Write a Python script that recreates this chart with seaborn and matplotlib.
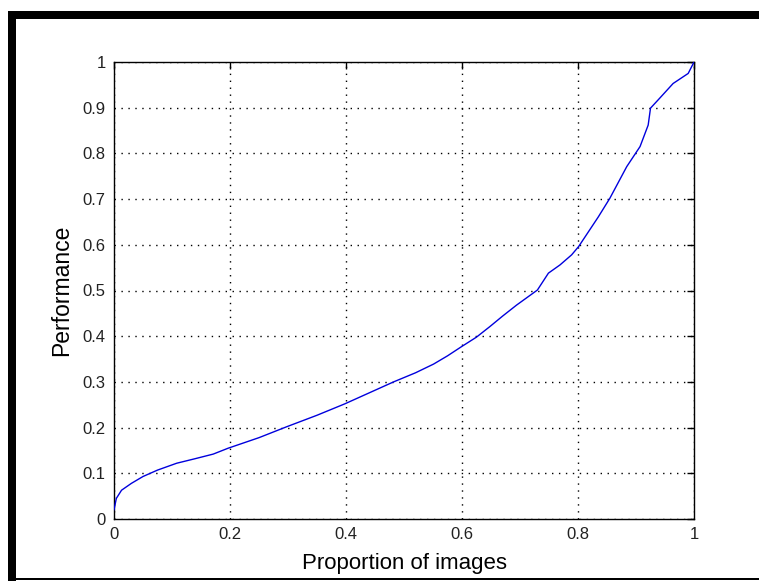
import matplotlib
matplotlib.use("Agg")
import matplotlib.pyplot as plt
from matplotlib.patches import Rectangle
import seaborn as sns
import pandas as pd

# Data
proportion = [0.0, 0.004, 0.013, 0.03, 0.05, 0.075, 0.108, 0.140, 0.171, 0.197, 0.250,
              0.298, 0.350, 0.398, 0.440, 0.482, 0.520, 0.551, 0.575, 0.599, 0.625,
              0.648, 0.670, 0.694, 0.730, 0.749, 0.769, 0.789, 0.801, 0.835, 0.855,
              0.884, 0.907, 0.921, 0.925, 0.941, 0.964, 0.990, 1.0]
performance = [0.02, 0.045, 0.063, 0.078, 0.093, 0.107, 0.122, 0.132, 0.142, 0.155, 0.178,
               0.202, 0.227, 0.252, 0.276, 0.300, 0.320, 0.339, 0.357, 0.377, 0.398,
               0.421, 0.444, 0.468, 0.501, 0.538, 0.556, 0.578, 0.596, 0.661, 0.702,
               0.771, 0.815, 0.862, 0.899, 0.921, 0.953, 0.975, 1.0]
xticks = [0, 0.2, 0.4, 0.6, 0.8, 1]
xticklabels = ["0", "0.2", "0.4", "0.6", "0.8", "1"]
yticks = [0, 0.1, 0.2, 0.3, 0.4, 0.5, 0.6, 0.7, 0.8, 0.9, 1]
yticklabels = ["0", "0.1", "0.2", "0.3", "0.4", "0.5", "0.6", "0.7", "0.8", "0.9", "1"]
xlabel = "Proportion of images"
ylabel = "Performance"

sns.set_style("white")
plt.rcParams['font.family'] = ['Liberation Sans', 'DejaVu Sans']

df = pd.DataFrame({"x": proportion, "y": performance})

fig = plt.figure(figsize=(7.59, 5.81), dpi=100)
fig.patch.set_facecolor("white")
ax = fig.add_axes([114/759, 62/581, 580/759, 457/581])

sns.lineplot(data=df, x="x", y="y", ax=ax, color="#0000dd", linewidth=1.0, zorder=3)

ax.set_xlim(0, 1)
ax.set_ylim(0, 1)
ax.set_xticks(xticks)
ax.set_xticklabels(xticklabels)
ax.set_yticks(yticks)
ax.set_yticklabels(yticklabels)
ax.grid(True, color="black", linestyle=(0, (1, 4)), linewidth=1.0)
ax.tick_params(direction="in", length=5, width=1, top=True, right=True,
               labelsize=12, labelcolor="#222222", pad=6, color="black")
for s in ax.spines.values():
    s.set_visible(True)
    s.set_color("black")
    s.set_linewidth(1.0)

ax.set_xlabel(xlabel, fontsize=16, labelpad=8, color="black")
ax.set_ylabel(ylabel, fontsize=16.5, labelpad=7, color="black")

# Black frame around the figure (as in the reference screenshot)
W, H = 759, 581
fig.patches.append(Rectangle((8/W, (H-19)/H), 1 - 8/W, 8/H, transform=fig.transFigure,
                             facecolor="black", edgecolor="none", zorder=10))
fig.patches.append(Rectangle((8/W, 0), 8/W, (H-11)/H, transform=fig.transFigure,
                             facecolor="black", edgecolor="none", zorder=10))
fig.patches.append(Rectangle((8/W, 1/H), 1 - 8/W, 2/H, transform=fig.transFigure,
                             facecolor="black", edgecolor="none", zorder=10))

fig.savefig("out.png", dpi=100, facecolor="white")
